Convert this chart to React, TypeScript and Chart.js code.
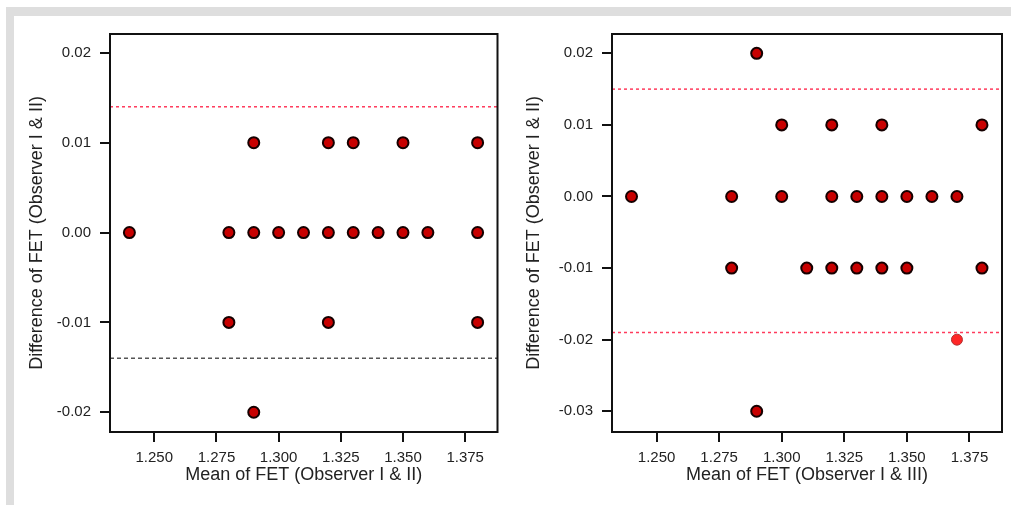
import React, { useEffect, useRef } from "react";
import { Chart, registerables } from "chart.js";

Chart.register(...registerables);

// ---------- data ----------
const xTicks = [1.25, 1.275, 1.3, 1.325, 1.35, 1.375];
const xMin = 1.2322;
const xMax = 1.388;

const leftYTicks = [-0.02, -0.01, 0, 0.01, 0.02];
const leftYMin = -0.0222;
const leftYMax = 0.0221;
const leftMeans = [1.24, 1.28, 1.29, 1.3, 1.31, 1.32, 1.33, 1.34, 1.35, 1.36, 1.38, 1.29, 1.32, 1.33, 1.35, 1.38, 1.28, 1.32, 1.38, 1.29];
const leftDiffs = [0, 0, 0, 0, 0, 0, 0, 0, 0, 0, 0, 0.01, 0.01, 0.01, 0.01, 0.01, -0.01, -0.01, -0.01, -0.02];
const leftUpper = 0.014;
const leftLower = -0.014;

const rightYTicks = [-0.03, -0.02, -0.01, 0, 0.01, 0.02];
const rightYMin = -0.0329;
const rightYMax = 0.0227;
const rightMeans = [1.24, 1.28, 1.3, 1.32, 1.33, 1.34, 1.35, 1.36, 1.37, 1.29, 1.3, 1.32, 1.34, 1.38, 1.28, 1.31, 1.32, 1.33, 1.34, 1.35, 1.38, 1.29];
const rightDiffs = [0, 0, 0, 0, 0, 0, 0, 0, 0, 0.02, 0.01, 0.01, 0.01, 0.01, -0.01, -0.01, -0.01, -0.01, -0.01, -0.01, -0.01, -0.03];
const rightHighlightMeans = [1.37];
const rightHighlightDiffs = [-0.02];
const rightUpper = 0.015;
const rightLower = -0.019;

const leftXTitle = "Mean of FET (Observer I & II)";
const rightXTitle = "Mean of FET (Observer I & III)";
const yTitle = "Difference of FET (Observer I & II)";

// ---------- styles ----------
const FONT = "'Liberation Sans', Arial, sans-serif";
const TEXT = "#222";
const AXIS = "#111";

type RefLine = { value: number; color: string; dash: number[] };

const frameAndLines = {
  id: "frameAndLines",
  beforeDatasetsDraw(chart: any, _args: any, opts: any) {
    const { ctx, chartArea } = chart;
    const y = chart.scales.y;
    ctx.save();
    (opts.lines || []).forEach((l: RefLine) => {
      const py = y.getPixelForValue(l.value);
      ctx.beginPath();
      ctx.strokeStyle = l.color;
      ctx.lineWidth = 1.5;
      ctx.setLineDash(l.dash);
      ctx.moveTo(chartArea.left, py);
      ctx.lineTo(chartArea.right, py);
      ctx.stroke();
    });
    ctx.restore();
  },
  afterDraw(chart: any) {
    const { ctx, chartArea } = chart;
    ctx.save();
    ctx.strokeStyle = AXIS;
    ctx.lineWidth = 2;
    ctx.setLineDash([]);
    ctx.strokeRect(chartArea.left, chartArea.top, chartArea.right - chartArea.left, chartArea.bottom - chartArea.top);
    ctx.restore();
  },
};

type PanelProps = {
  left: number;
  width: number;
  yAxisWidth: number;
  padRight: number;
  yTitlePad: number;
  xTitle: string;
  yTicks: number[];
  yMin: number;
  yMax: number;
  means: number[];
  diffs: number[];
  hiMeans?: number[];
  hiDiffs?: number[];
  lines: RefLine[];
};

const HEIGHT = 489;

function Panel(p: PanelProps) {
  const ref = useRef<HTMLCanvasElement>(null);
  useEffect(() => {
    if (!ref.current) return;
    const datasets: any[] = [
      {
        data: p.means.map((m, i) => ({ x: m, y: p.diffs[i] })),
        backgroundColor: "#c80000",
        borderColor: "#150000",
        borderWidth: 2,
        pointRadius: 5.5,
      },
    ];
    if (p.hiMeans && p.hiDiffs) {
      datasets.push({
        data: p.hiMeans.map((m, i) => ({ x: m, y: p.hiDiffs![i] })),
        backgroundColor: "#ff2626",
        borderColor: "#b03030",
        borderWidth: 1,
        pointRadius: 5.5,
      });
    }
    const tickFont = { family: FONT, size: 15, lineHeight: 1.2 };
    const titleFont = { family: FONT, size: 18, lineHeight: 1 };
    const chart = new Chart(ref.current, {
      type: "scatter",
      data: { datasets },
      plugins: [frameAndLines],
      options: {
        animation: false,
        responsive: false,
        layout: { padding: { top: 17, right: p.padRight, left: 0, bottom: 0 } },
        plugins: {
          legend: { display: false },
          tooltip: { enabled: false },
          frameAndLines: { lines: p.lines },
        } as any,
        scales: {
          x: {
            type: "linear",
            min: xMin,
            max: xMax,
            afterBuildTicks: (axis: any) => {
              axis.ticks = xTicks.map((v) => ({ value: v }));
            },
            afterFit: (axis: any) => {
              axis.height = 73;
            },
            ticks: {
              autoSkip: false,
              maxRotation: 0,
              padding: 7,
              color: TEXT,
              font: tickFont,
              callback: (v: any) => Number(v).toFixed(3),
            },
            grid: { display: true, drawOnChartArea: false, drawTicks: true, tickLength: 10, color: AXIS, lineWidth: 2 },
            border: { display: false },
            title: { display: true, text: p.xTitle, color: TEXT, font: titleFont, padding: { top: 0, bottom: 21 } },
          },
          y: {
            type: "linear",
            min: p.yMin,
            max: p.yMax,
            afterBuildTicks: (axis: any) => {
              axis.ticks = p.yTicks.map((v) => ({ value: v }));
            },
            afterFit: (axis: any) => {
              axis.width = p.yAxisWidth;
            },
            ticks: {
              autoSkip: false,
              padding: 9,
              color: TEXT,
              font: tickFont,
              callback: (v: any) => Number(v).toFixed(2),
            },
            grid: { display: true, drawOnChartArea: false, drawTicks: true, tickLength: 10, color: AXIS, lineWidth: 2 },
            border: { display: false },
            title: { display: true, text: yTitle, color: TEXT, font: titleFont, padding: { top: p.yTitlePad, bottom: 0 } },
          },
        },
      } as any,
    });
    return () => chart.destroy();
  }, []);
  return (
    <canvas
      ref={ref}
      width={p.width}
      height={HEIGHT}
      style={{ position: "absolute", left: p.left, top: 16, width: p.width, height: HEIGHT }}
    />
  );
}

export default function App() {
  return (
    <div style={{ position: "absolute", left: 0, top: 0, width: 1011, height: 505, background: "#fff", overflow: "hidden" }}>
      <div
        style={{
          position: "absolute",
          left: 6,
          top: 7,
          width: 1005,
          height: 498,
          boxSizing: "border-box",
          borderTop: "9px solid #dedede",
          borderLeft: "8px solid #dedede",
        }}
      />
      <Panel
        left={14}
        width={491}
        yAxisWidth={96}
        padRight={5}
        yTitlePad={14}
        xTitle={leftXTitle}
        yTicks={leftYTicks}
        yMin={leftYMin}
        yMax={leftYMax}
        means={leftMeans}
        diffs={leftDiffs}
        lines={[
          { value: leftUpper, color: "#ff3b5c", dash: [3, 3] },
          { value: leftLower, color: "#555555", dash: [4, 3] },
        ]}
      />
      <Panel
        left={505}
        width={506}
        yAxisWidth={107}
        padRight={9}
        yTitlePad={20}
        xTitle={rightXTitle}
        yTicks={rightYTicks}
        yMin={rightYMin}
        yMax={rightYMax}
        means={rightMeans}
        diffs={rightDiffs}
        hiMeans={rightHighlightMeans}
        hiDiffs={rightHighlightDiffs}
        lines={[
          { value: rightUpper, color: "#ff3b5c", dash: [3, 3] },
          { value: rightLower, color: "#ff3b5c", dash: [3, 3] },
        ]}
      />
    </div>
  );
}
